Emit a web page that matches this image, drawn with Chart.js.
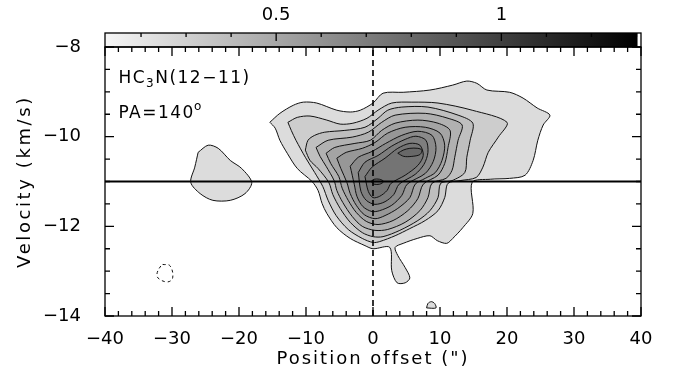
<!DOCTYPE html>
<html>
<head>
<meta charset="utf-8">
<script src="https://cdn.jsdelivr.net/npm/chart.js@4.4.1/dist/chart.umd.min.js"></script>
<style>
  html, body { margin: 0; padding: 0; background: #fff; }
</style>
</head>
<body>
<canvas id="pv" width="683" height="376"></canvas>
<script>
// axes
const posTicks = [-40, -30, -20, -10, 0, 10, 20, 30, 40];
const velTicks = [-14, -12, -10, -8];
const barTicks = [0.5, 1];
const barRange = [0.12, 1.31];
const vSys = -11;

// contour outlines, [offset ("), velocity (km/s)], outermost first
const c1 = [[-15.4,-9.68],[-13.9,-9.48],[-11.9,-9.30],[-10.4,-9.23],[-8.4,-9.25],[-5.4,-9.41],[-3.4,-9.45],[-1.9,-9.41],[0,-9.25],[1.5,-9.03],[4.5,-9.01],[8.5,-8.96],[11.9,-8.85],[14.0,-8.76],[15.5,-8.81],[17.0,-8.96],[20.4,-9.01],[22.4,-9.14],[24.5,-9.36],[26.4,-9.52],[25.4,-9.74],[24.6,-10.08],[23.9,-10.53],[22.7,-10.86],[20.4,-10.93],[17.5,-10.95],[14.8,-11.02],[14.9,-11.71],[13.4,-12.03],[11.9,-12.27],[11.0,-12.38],[9.6,-12.32],[8.5,-12.21],[6.6,-12.27],[4.5,-12.38],[3.3,-12.47],[3.7,-12.65],[4.8,-12.92],[5.5,-13.15],[4.8,-13.26],[3.6,-13.26],[2.8,-12.99],[2.5,-12.47],[0,-12.50],[-1.2,-12.43],[-3.4,-12.27],[-5.4,-12.03],[-6.9,-11.71],[-7.6,-11.49],[-8.2,-11.20],[-9.1,-11.00],[-11.3,-10.71],[-12.8,-10.37],[-13.9,-10.08],[-14.6,-9.81]];
const c2 = [[-12.7,-9.68],[-11.3,-9.57],[-9.4,-9.54],[-6.9,-9.63],[-4.9,-9.72],[-3.0,-9.70],[-0.9,-9.59],[0.75,-9.41],[2.8,-9.25],[5.8,-9.23],[9.7,-9.25],[14.8,-9.41],[20.0,-9.68],[18.7,-10.01],[17.2,-10.35],[16.4,-10.68],[15.4,-10.91],[13.0,-10.98],[11.2,-11.04],[10.7,-11.36],[9.7,-11.65],[7.8,-11.87],[5.5,-12.05],[3.3,-12.21],[1.0,-12.34],[0,-12.36],[-1.6,-12.27],[-3.7,-12.07],[-5.5,-11.76],[-6.7,-11.42],[-7.5,-11.11],[-8.7,-10.80],[-10.1,-10.46],[-11.5,-10.08],[-12.2,-9.86]];
const c3 = [[-10.1,-10.30],[-9.7,-10.08],[-8.7,-9.97],[-7.2,-9.90],[-4.2,-9.86],[-1.2,-9.79],[0.75,-9.59],[2.2,-9.41],[4.3,-9.34],[8.2,-9.34],[12.7,-9.52],[14.9,-9.70],[14.5,-10.08],[14.0,-10.46],[13.7,-10.80],[11.8,-10.98],[10.1,-11.04],[9.7,-11.36],[8.5,-11.65],[6.7,-11.87],[4.0,-12.09],[1.5,-12.23],[0,-12.23],[-1.6,-12.14],[-3.4,-11.91],[-4.9,-11.60],[-6.0,-11.29],[-6.6,-11.02],[-8.2,-10.71],[-9.4,-10.53]];
const c4 = [[-8.5,-10.24],[-6.7,-10.08],[-3.1,-10.01],[-0.7,-9.90],[1.3,-9.68],[3.3,-9.52],[7.8,-9.48],[11.2,-9.59],[13.3,-9.74],[12.7,-10.08],[12.2,-10.46],[11.8,-10.75],[10.9,-10.93],[8.8,-11.04],[8.2,-11.36],[7.0,-11.65],[4.8,-11.91],[2.2,-12.07],[0.3,-12.09],[-1.6,-12.00],[-3.1,-11.78],[-4.5,-11.47],[-5.4,-11.20],[-5.8,-10.98],[-7.0,-10.66],[-7.9,-10.44]];
const c5 = [[-7.0,-10.37],[-5.7,-10.24],[-2.7,-10.15],[-0.4,-10.08],[1.3,-9.86],[3.3,-9.70],[6.7,-9.63],[9.7,-9.70],[11.5,-9.86],[11.2,-10.24],[10.7,-10.60],[9.7,-10.86],[7.5,-11.06],[6.7,-11.38],[5.2,-11.65],[3.0,-11.87],[0.75,-11.96],[-1.0,-11.89],[-2.5,-11.69],[-3.7,-11.42],[-4.6,-11.15],[-5.1,-10.89],[-6.3,-10.60]];
const c6 = [[-5.4,-10.48],[-4.0,-10.35],[-1.6,-10.26],[0.3,-10.13],[2.2,-9.92],[4.8,-9.79],[7.8,-9.79],[10.0,-9.92],[10.7,-10.19],[10.3,-10.53],[9.3,-10.80],[7.8,-10.93],[6.3,-11.06],[5.5,-11.36],[3.7,-11.60],[1.8,-11.76],[0.3,-11.83],[-1.3,-11.74],[-2.5,-11.53],[-3.4,-11.27],[-3.9,-11.02],[-4.8,-10.71]];
const c7 = [[-3.4,-10.66],[-2.2,-10.46],[-0.15,-10.33],[1.9,-10.15],[4.3,-9.97],[6.7,-9.88],[8.8,-9.97],[9.4,-10.24],[9.0,-10.55],[7.8,-10.82],[5.1,-11.06],[4.3,-11.31],[2.8,-11.53],[1.0,-11.65],[-0.15,-11.67],[-1.5,-11.56],[-2.4,-11.33],[-2.8,-11.06]];
const c8 = [[-2.2,-10.80],[-1.2,-10.57],[0.75,-10.42],[2.8,-10.21],[4.8,-10.06],[6.4,-9.99],[7.9,-10.08],[8.2,-10.35],[7.6,-10.62],[6.3,-10.84],[3.9,-11.06],[3.1,-11.29],[1.8,-11.45],[0.3,-11.51],[-1.0,-11.42],[-1.8,-11.22]];
const c9 = [[-1.2,-10.89],[-0.15,-10.68],[1.8,-10.48],[3.7,-10.26],[5.5,-10.15],[7.0,-10.19],[7.5,-10.42],[6.7,-10.64],[4.8,-10.86],[2.7,-11.04],[2.1,-11.20],[1.0,-11.33],[0,-11.36],[-0.7,-11.22]];
const peakA = [[3.7,-10.37],[4.5,-10.30],[5.5,-10.26],[6.7,-10.26],[7.3,-10.30],[7.0,-10.40],[5.8,-10.44],[4.6,-10.44]];
const peakB = [[-0.3,-11.0],[0.15,-10.95],[1.0,-10.95],[1.6,-11.0],[1.0,-11.06],[0.15,-11.06]];
const blobWest = [[-26.1,-10.35],[-24.6,-10.19],[-23.1,-10.26],[-21.3,-10.53],[-19.6,-10.71],[-18.1,-11.02],[-19.1,-11.27],[-21.3,-11.42],[-23.9,-11.42],[-25.8,-11.27],[-27.2,-11.02],[-26.6,-10.68]];
const blobSouth = [[8.0,-13.82],[8.2,-13.72],[8.7,-13.68],[9.2,-13.72],[9.4,-13.82]];
const negative = [[-31.4,-12.85],[-30.3,-12.88],[-29.9,-13.15],[-30.7,-13.24],[-32.1,-13.15],[-32.2,-13.03],[-31.6,-12.87]];

const shades = ['#dcdcdc', '#cdcdcd', '#bfbfbf', '#b1b1b1', '#a4a4a4', '#979797', '#8a8a8a', '#7e7e7e', '#747474', '#686868'];
const filled = [[c1, 0], [blobWest, 0], [blobSouth, 0], [c2, 1], [c3, 2], [c4, 3], [c5, 4], [c6, 5], [c7, 6], [c8, 7], [c9, 8], [peakA, 9], [peakB, 9]];

const FONT = '"DejaVu Sans", "Liberation Sans", sans-serif';
const minus = v => (v < 0 ? '\u2212' + Math.abs(v) : String(v));

function ring(pts) {
  const d = pts.map(p => ({x: p[0], y: p[1]}));
  d.push(d[0]);
  return d;
}

const datasets = filled.map(([pts, k], i) => ({
  data: ring(pts),
  showLine: true,
  fill: 'shape',
  backgroundColor: shades[k],
  borderColor: '#111',
  borderWidth: 1,
  tension: 0.3,
  pointRadius: 0,
  order: 100 - i
}));
datasets.push({
  data: ring(negative), showLine: true, fill: false, borderColor: '#111',
  borderWidth: 1, borderDash: [3, 3], tension: 0.4, pointRadius: 0, order: 5
});
datasets.push({
  data: [{x: -40, y: vSys}, {x: 40, y: vSys}], showLine: true, fill: false,
  borderColor: '#000', borderWidth: 2.2, pointRadius: 0, order: 1
});
datasets.push({
  data: [{x: 0, y: -14}, {x: 0, y: -8}], showLine: true, fill: false,
  borderColor: '#000', borderWidth: 1.6, borderDash: [6, 4], pointRadius: 0, order: 0
});

// frame with inward ticks, colour wedge and the labels
const decor = {
  id: 'decor',
  afterDraw(chart) {
    const {ctx, chartArea: a, scales: {x, y, x2}} = chart;
    ctx.save();
    ctx.strokeStyle = '#000';
    ctx.lineWidth = 1.3;

    // wedge
    const top = 33;
    const g = ctx.createLinearGradient(a.left, 0, a.right, 0);
    g.addColorStop(0, '#f6f6f6');
    g.addColorStop(0.993, '#000');
    g.addColorStop(0.994, '#fff');
    g.addColorStop(1, '#fff');
    ctx.fillStyle = g;
    ctx.fillRect(a.left, top, a.right - a.left, a.top - top);
    ctx.strokeRect(a.left, top, a.right - a.left, a.top - top);

    ctx.beginPath();
    for (let i = 2; i <= 13; i++) {
      const px = x2.getPixelForValue(i / 10);
      const len = (i === 5 || i === 10) ? 8 : 4;
      ctx.moveTo(px, top); ctx.lineTo(px, top + len);
    }
    for (let i = 0; i <= 40; i++) {
      const v = -40 + 2 * i;
      const px = x.getPixelForValue(v);
      const len = v % 10 === 0 ? 9 : 5;
      ctx.moveTo(px, a.bottom); ctx.lineTo(px, a.bottom - len);
      ctx.moveTo(px, a.top); ctx.lineTo(px, a.top + len);
    }
    for (let i = 0; i <= 12; i++) {
      const py = y.getPixelForValue(-14 + 0.5 * i);
      const len = i % 4 === 0 ? 9 : 5;
      ctx.moveTo(a.left, py); ctx.lineTo(a.left + len, py);
      ctx.moveTo(a.right, py); ctx.lineTo(a.right - len, py);
    }
    ctx.stroke();
    ctx.strokeRect(a.left, a.top, a.right - a.left, a.bottom - a.top);

    // axis titles
    ctx.fillStyle = '#000';
    ctx.font = '18px ' + FONT;
    ctx.textAlign = 'center';
    ctx.textBaseline = 'middle';
    ctx.letterSpacing = '2px';
    ctx.fillText('Position offset (")', (a.left + a.right) / 2, 359);
    ctx.save();
    ctx.translate(25, (a.top + a.bottom) / 2);
    ctx.rotate(-Math.PI / 2);
    ctx.letterSpacing = '2.6px';
    ctx.fillText('Velocity (km/s)', 0, 0);
    ctx.restore();

    // line and position angle
    ctx.textAlign = 'left';
    ctx.textBaseline = 'alphabetic';
    ctx.letterSpacing = '1.5px';
    let tx = x.getPixelForValue(-38);
    const ty1 = y.getPixelForValue(-8.81);
    const ty2 = y.getPixelForValue(-9.59);
    ctx.font = '17px ' + FONT;
    ctx.fillText('HC', tx, ty1);
    tx += ctx.measureText('HC').width;
    ctx.font = '12px ' + FONT;
    ctx.fillText('3', tx, ty1 + 4);
    tx += ctx.measureText('3').width;
    ctx.font = '17px ' + FONT;
    ctx.fillText('N(12\u221211)', tx, ty1);

    tx = x.getPixelForValue(-38);
    ctx.fillText('PA=140', tx, ty2);
    tx += ctx.measureText('PA=140').width;
    ctx.font = '12px ' + FONT;
    ctx.fillText('o', tx - 1, ty2 - 8);
    ctx.restore();
  }
};

const tickFont = {family: FONT, size: 18};

new Chart(document.getElementById('pv'), {
  type: 'scatter',
  data: {datasets},
  options: {
    responsive: false,
    animation: false,
    events: [],
    layout: {padding: {left: 0, right: 42, top: 0, bottom: 0}},
    plugins: {legend: {display: false}, tooltip: {enabled: false}},
    scales: {
      x: {
        type: 'linear', position: 'bottom', min: -40, max: 40,
        grid: {display: false}, border: {display: false},
        afterBuildTicks: s => { s.ticks = posTicks.map(v => ({value: v})); },
        afterFit: s => { s.height = 60; },
        ticks: {font: tickFont, color: '#000', padding: 5, maxRotation: 0, autoSkip: false, callback: minus}
      },
      y: {
        type: 'linear', position: 'left', min: -14, max: -8,
        grid: {display: false}, border: {display: false},
        afterBuildTicks: s => { s.ticks = velTicks.map(v => ({value: v})); },
        afterFit: s => { s.width = 105; },
        ticks: {font: tickFont, color: '#000', padding: 16, autoSkip: false, callback: minus}
      },
      x2: {
        type: 'linear', position: 'top', min: barRange[0], max: barRange[1],
        grid: {display: false}, border: {display: false},
        afterBuildTicks: s => { s.ticks = barTicks.map(v => ({value: v})); },
        afterFit: s => { s.height = 47; },
        ticks: {font: tickFont, color: '#000', padding: 13, maxRotation: 0, autoSkip: false, callback: v => String(v)}
      }
    }
  },
  plugins: [decor]
});
</script>
</body>
</html>
